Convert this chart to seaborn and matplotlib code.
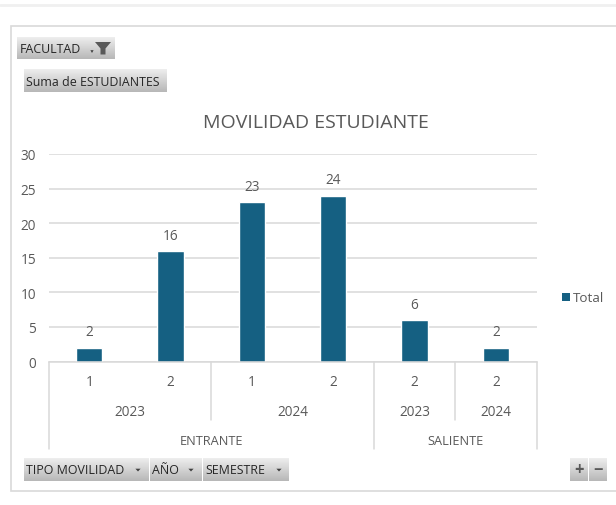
import numpy as np
import pandas as pd
import seaborn as sns
import matplotlib.pyplot as plt
from matplotlib.patches import Rectangle, Polygon

W, H = 616, 506

tipo = ["ENTRANTE", "ENTRANTE", "ENTRANTE", "ENTRANTE", "SALIENTE", "SALIENTE"]
anio = ["2023", "2023", "2024", "2024", "2023", "2024"]
semestre = ["1", "2", "1", "2", "2", "2"]
estudiantes = [2, 16, 23, 24, 6, 2]

sns.set_theme(style="white")
plt.rcParams["font.family"] = ["Open Sans", "DejaVu Sans"]

GRID = "#d9d9d9"
TEXT = "#595959"
BAR = "#156082"

data = pd.DataFrame({"tipo": tipo, "anio": anio, "semestre": semestre, "n": estudiantes})
data["pos"] = range(len(data))

fig = plt.figure(figsize=(W / 100, H / 100), dpi=100)
fig.patch.set_facecolor("white")

# overlay in pixel coords for the pivot chart chrome
ui = fig.add_axes([0, 0, 1, 1], zorder=0)
ui.set_xlim(0, W)
ui.set_ylim(H, 0)
ui.axis("off")

ax = fig.add_axes([48.6 / W, 1 - 362.5 / H, 488 / W, 207.5 / H], zorder=1)
ax.patch.set_alpha(0)
sns.barplot(data=data, x="pos", y="n", color=BAR, width=0.325, saturation=1, ax=ax)
ax.set_xlim(-0.5, 5.5)
ax.set_ylim(0, 30)
ax.set_yticks(range(0, 31, 5))
ax.yaxis.grid(True, color=GRID, lw=1.1)
ax.set_axisbelow(True)
ax.set_xlabel("")
ax.set_ylabel("")
ax.set_xticks([])
ax.tick_params(axis="y", length=0, labelsize=9.8, labelcolor=TEXT, pad=9)
sns.despine(ax=ax, left=True, top=True, right=True)
ax.spines["bottom"].set_color(GRID)
ax.spines["bottom"].set_linewidth(1.1)
ax.bar_label(ax.containers[0], fontsize=9.8, color=TEXT, padding=6)

# multi-level category axis, in axis x / pixel y
trans = ax.get_xaxis_transform()


def to_y(py):
    return (362.5 - py) / 207.5


def sep(x, py):
    ax.plot([x, x], [0, to_y(py)], transform=trans, color=GRID, lw=1.1, clip_on=False)


def cat(x, py, s, fs=9.8):
    ax.text(x, to_y(py), s, transform=trans, ha="center", va="center",
            color=TEXT, fontsize=fs, clip_on=False)


for i, s in enumerate(semestre):
    cat(i, 382.5, s)

groups = data.groupby(["tipo", "anio"], sort=False)["pos"].agg(["min", "max"])
for (t, a), g in groups.iterrows():
    cat((g["min"] + g["max"]) / 2, 412.5, a)
    if g["min"] > 0:
        # a change of tipo gets the long separator
        sep(g["min"] - 0.5, 450 if tipo[g["min"]] != tipo[g["min"] - 1] else 421)
types = data.groupby("tipo", sort=False)["pos"].agg(["min", "max"])
for t, g in types.iterrows():
    cat((g["min"] + g["max"]) / 2, 442, t, fs=9.2)
sep(-0.5, 450)
sep(5.5, 450)

ax.text(0.547, (362.5 - 123.5) / 207.5, "MOVILIDAD ESTUDIANTE", transform=ax.transAxes,
        ha="center", va="center", fontsize=14, color=TEXT)

# chart frame
ui.add_patch(Rectangle((10.5, 26.5), 630, 465, fc="white", ec="#d9d9d9", lw=1.2))
ui.plot([0, W], [6, 6], color="#f0f0f0", lw=2)

# legend
ui.add_patch(Rectangle((561.5, 294), 8, 8, fc=BAR, ec="none"))
ui.text(573, 299, "Total", fontsize=9.6, color=TEXT, va="center", ha="left")

grad = np.linspace(0.93, 0.72, 32).reshape(-1, 1)


def button(x0, x1, y0, y1, s=None, fs=8.9):
    ui.imshow(grad, extent=(x0, x1, y1, y0), cmap="gray", vmin=0, vmax=1,
              aspect="auto", interpolation="bilinear", zorder=2)
    if s:
        ui.text(x0 + 2.5, (y0 + y1) / 2 + 0.5, s, fontsize=fs, color="#262626",
                va="center", ha="left", zorder=3)


def arrow(cx, cy, r=2.6):
    ui.add_patch(Polygon([(cx - r, cy - 1.3), (cx + r, cy - 1.3), (cx, cy + 1.5)],
                         fc="#404040", ec="none", zorder=3))


button(17, 115, 38, 60, "FACULTAD")
arrow(92, 52.5, 1.6)
ui.add_patch(Polygon([(95, 43), (111, 43), (105.5, 49.5), (105.5, 55.5), (100.5, 55.5), (100.5, 49.5)],
                     fc="#595959", ec="none", zorder=3))

button(24, 167, 70, 93, "Suma de ESTUDIANTES")

button(24, 149, 459, 482, "TIPO MOVILIDAD")
arrow(138, 471)
button(150, 202, 459, 482, "AÑO")
arrow(191, 471)
button(203, 289, 459, 482, "SEMESTRE")
arrow(279, 471)

button(570, 588, 459, 482)
button(589, 607, 459, 482)
ui.text(579, 470.5, "+", fontsize=12, color="#595959", ha="center", va="center", zorder=3, fontweight="bold")
ui.text(598, 470.5, "−", fontsize=12, color="#595959", ha="center", va="center", zorder=3, fontweight="bold")

ui.set_xlim(0, W)
ui.set_ylim(H, 0)

fig.savefig("out.png", dpi=100)
